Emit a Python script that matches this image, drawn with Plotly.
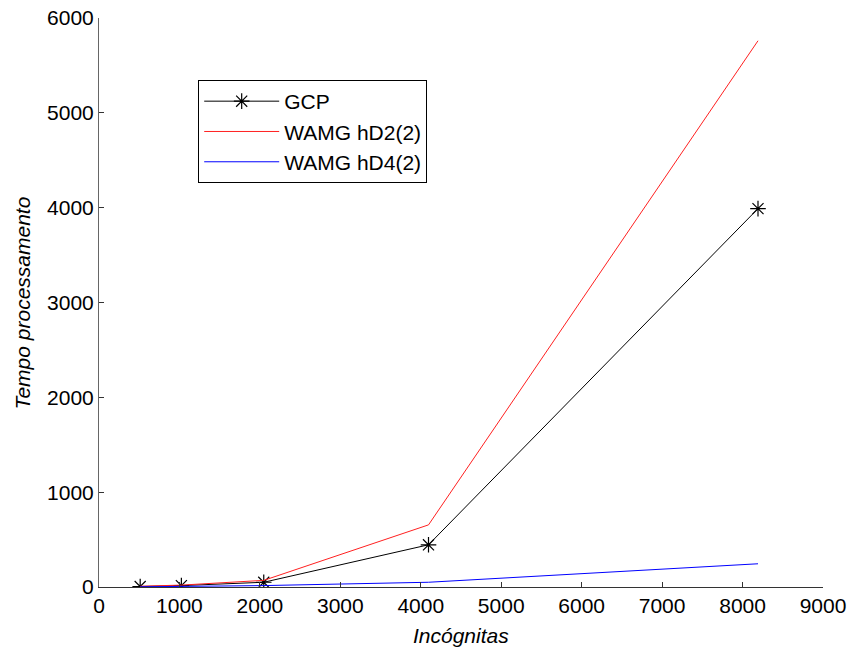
import plotly.graph_objects as go

incognitas = [512, 1024, 2048, 4096, 8192]
gcp = [5, 15, 50, 445, 3990]
wamg_hd2 = [8, 20, 70, 655, 5760]
wamg_hd4 = [2, 5, 15, 50, 245]

x_ticks = [0, 1000, 2000, 3000, 4000, 5000, 6000, 7000, 8000, 9000]
y_ticks = [0, 1000, 2000, 3000, 4000, 5000, 6000]

fig = go.Figure()
fig.add_trace(go.Scatter(x=incognitas, y=gcp, name="GCP", mode="lines+markers",
                         line=dict(color="black", width=1),
                         marker=dict(symbol="asterisk-open", size=13,
                                     line=dict(color="black", width=1.2))))
fig.add_trace(go.Scatter(x=incognitas, y=wamg_hd2, name="WAMG hD2(2)", mode="lines",
                         line=dict(color="#ff2020", width=1)))
fig.add_trace(go.Scatter(x=incognitas, y=wamg_hd4, name="WAMG hD4(2)", mode="lines",
                         line=dict(color="#0000ff", width=1)))

FAM = "Liberation Sans, Arial, sans-serif"
font = dict(family=FAM, size=21, color="black")
fig.update_layout(
    width=847, height=648,
    margin=dict(l=99, r=24, t=18, b=61),
    paper_bgcolor="white", plot_bgcolor="white",
    font=font,
    showlegend=True,
    legend=dict(x=0.137, y=0.891, xanchor="left", yanchor="top",
                bordercolor="black", borderwidth=1, bgcolor="white",
                font=dict(family=FAM, size=21, color="black"),
                itemwidth=75, tracegroupgap=0),
    annotations=[
        dict(text="<i>Incógnitas</i>", xref="paper", yref="paper", x=0.5, y=-0.0844,
             xanchor="center", yanchor="middle", showarrow=False, font=font),
        dict(text="<i>Tempo processamento</i>", xref="paper", yref="paper", x=-0.105, y=0.5,
             xanchor="center", yanchor="middle", textangle=-90, showarrow=False, font=font),
    ],
)
fig.update_xaxes(range=[0, 9000], tickvals=x_ticks, ticktext=[str(v) for v in x_ticks],
                 automargin=False,
                 showgrid=False, zeroline=False, showline=True, linecolor="#333333", linewidth=1,
                 ticks="inside", ticklen=5, tickcolor="#333333")
fig.update_yaxes(range=[0, 6000], tickvals=y_ticks, ticktext=[str(v) for v in y_ticks],
                 automargin=False,
                 showgrid=False, zeroline=False, showline=True, linecolor="#666666", linewidth=1,
                 ticks="inside", ticklen=5, tickcolor="#333333")

fig.write_html("out.html")
